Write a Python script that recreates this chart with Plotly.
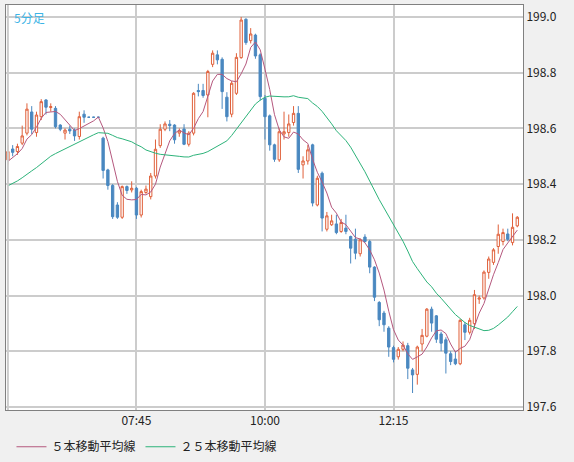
import plotly.graph_objects as go
import pandas as pd

opens = [198.487,198.526,198.517,198.547,198.583,198.659,198.585,198.642,198.702,198.675,
         198.672,198.612,198.583,198.597,198.594,198.571,198.651,198.640,198.640,198.640,
         198.565,198.451,198.395,198.325,198.281,198.391,198.379,198.385,198.289,198.370,
         198.355,198.429,198.538,198.597,198.615,198.612,198.583,198.598,198.543,198.583,
         198.736,198.736,198.720,198.830,198.864,198.848,198.712,198.651,198.726,198.854,
         198.992,198.915,198.935,198.864,198.708,198.645,198.541,198.487,198.580,198.585,
         198.621,198.654,198.469,198.483,198.541,198.325,198.439,198.238,198.254,198.257,
         198.230,198.242,198.212,198.202,198.150,198.210,198.194,198.102,197.975,197.937,
         197.883,197.813,197.780,197.807,197.820,197.733,197.717,197.826,197.854,197.951,
         197.927,197.862,197.841,197.791,197.772,197.755,197.895,197.868,197.899,197.987,
         197.991,198.083,198.119,198.176,198.194,198.221,198.190,198.250]
closes = [198.517,198.514,198.535,198.573,198.669,198.597,198.648,198.696,198.676,198.678,
          198.606,198.597,198.594,198.591,198.573,198.642,198.640,198.640,198.640,198.640,
          198.449,198.395,198.283,198.281,198.391,198.377,198.385,198.289,198.373,198.382,
          198.429,198.525,198.597,198.616,198.610,198.559,198.591,198.543,198.583,198.726,
          198.732,198.718,198.804,198.870,198.846,198.732,198.642,198.762,198.855,198.989,
          198.908,198.939,198.860,198.714,198.642,198.541,198.489,198.588,198.588,198.616,
          198.654,198.453,198.483,198.523,198.332,198.421,198.278,198.286,198.268,198.226,
          198.262,198.230,198.170,198.152,198.200,198.194,198.102,197.994,197.913,197.895,
          197.815,197.771,197.807,197.822,197.739,197.715,197.815,197.857,197.951,197.901,
          197.843,197.829,197.793,197.763,197.755,197.911,197.868,197.911,198.003,197.991,
          198.084,198.131,198.164,198.220,198.226,198.202,198.245,198.281]
highs = [198.540,198.540,198.545,198.610,198.690,198.680,198.660,198.705,198.705,198.690,
         198.680,198.615,198.600,198.610,198.600,198.660,198.665,198.642,198.642,198.642,
         198.570,198.455,198.400,198.335,198.395,198.395,198.410,198.390,198.380,198.395,
         198.440,198.560,198.615,198.625,198.630,198.615,198.600,198.615,198.590,198.730,
         198.760,198.760,198.810,198.880,198.880,198.855,198.730,198.770,198.870,199.000,
         198.995,198.960,198.940,198.870,198.720,198.650,198.545,198.600,198.660,198.650,
         198.680,198.680,198.500,198.540,198.545,198.430,198.445,198.300,198.290,198.290,
         198.275,198.290,198.215,198.240,198.205,198.220,198.200,198.105,197.980,197.945,
         197.890,197.820,197.815,197.835,197.830,197.740,197.820,197.880,197.955,197.960,
         197.930,197.870,197.850,197.800,197.800,197.915,197.905,197.920,198.020,198.000,
         198.090,198.140,198.170,198.255,198.240,198.240,198.295,198.285]
lows = [198.470,198.500,198.505,198.540,198.575,198.580,198.570,198.630,198.650,198.660,
        198.600,198.590,198.560,198.580,198.555,198.560,198.620,198.640,198.640,198.640,
        198.420,198.380,198.275,198.275,198.275,198.365,198.370,198.275,198.280,198.365,
        198.345,198.420,198.530,198.590,198.590,198.545,198.570,198.540,198.535,198.575,
        198.715,198.710,198.640,198.820,198.830,198.670,198.625,198.640,198.720,198.850,
        198.900,198.905,198.850,198.700,198.560,198.520,198.480,198.480,198.560,198.570,
        198.610,198.440,198.420,198.470,198.320,198.320,198.230,198.230,198.250,198.220,
        198.225,198.220,198.115,198.130,198.140,198.190,198.080,197.980,197.890,197.870,
        197.780,197.760,197.770,197.800,197.700,197.650,197.680,197.800,197.850,197.870,
        197.830,197.800,197.720,197.750,197.750,197.750,197.840,197.860,197.880,197.970,
        197.985,198.060,198.110,198.150,198.180,198.195,198.180,198.245]
# closes before the visible window (used only to seed the moving averages)
prior_closes = [198.30,198.31,198.29,198.33,198.32,198.35,198.34,198.36,198.33,198.37,
                198.38,198.36,198.39,198.40,198.42,198.41,198.44,198.43,198.45,198.46,
                198.44,198.47,198.48,198.50]
ma5_label = "５本移動平均線"
ma25_label = "２５本移動平均線"
tick_labels = ["07:45", "10:00", "12:15"]
title_text = "5分足"

times = pd.date_range("2024-01-10 05:30", periods=len(closes), freq="5min")
allc = pd.Series(prior_closes + closes)
n0 = len(prior_closes)
ma5 = allc.rolling(5).mean().iloc[n0:].values
ma25 = allc.rolling(25, min_periods=1).mean().iloc[n0:].values

fig = go.Figure()
fig.add_trace(go.Candlestick(
    x=times, open=opens, high=highs, low=lows, close=closes,
    increasing=dict(line=dict(color="#e0603a", width=1), fillcolor="white"),
    decreasing=dict(line=dict(color="#4a88c0", width=1), fillcolor="#4a88c0"),
    whiskerwidth=0, showlegend=False, hoverinfo="skip"))
fig.add_trace(go.Scatter(x=times, y=ma5, mode="lines", name=ma5_label,
                         line=dict(color="#b5587e", width=1)))
fig.add_trace(go.Scatter(x=times, y=ma25, mode="lines", name=ma25_label,
                         line=dict(color="#2db37a", width=1)))

tickvals = [pd.Timestamp("2024-01-10 " + t) for t in tick_labels]
fig.add_vline(x=pd.Timestamp("2024-01-10 05:30"), line=dict(color="#cccccc", width=2))
fig.add_annotation(text=title_text, xref="paper", yref="paper", x=0.012, y=0.995,
                   xanchor="left", yanchor="top", showarrow=False,
                   font=dict(color="#3cb4e6", size=12))
fig.update_layout(
    width=574, height=462, margin=dict(l=6, r=51, t=5, b=52, autoexpand=False),
    paper_bgcolor="#f0f0f0", plot_bgcolor="white",
    font=dict(family="Noto Sans CJK JP", size=12, color="#222"),
    xaxis=dict(rangeslider=dict(visible=False), tickvals=tickvals, ticktext=tick_labels,
               range=[pd.Timestamp("2024-01-10 05:28"), pd.Timestamp("2024-01-10 14:31")],
               showgrid=True, gridcolor="#cccccc", gridwidth=2, ticks="",
               showline=True, linecolor="#808080", mirror=True, linewidth=1),
    yaxis=dict(side="right", range=[197.589, 199.043], dtick=0.2, tick0=197.6,
               tickformat=".1f", showgrid=True, gridcolor="#cccccc", gridwidth=2,
               showline=True, linecolor="#808080", mirror=True, linewidth=1, ticks=""),
    legend=dict(orientation="h", x=0.02, y=0.033, xref="container", yref="container",
                xanchor="left", yanchor="middle",
                bgcolor="rgba(0,0,0,0)", font=dict(size=12)),
    hovermode=False,
)
fig.write_html("out.html", config={"displayModeBar": False})
with open("out.html", encoding="utf-8") as f:
    html = f.read()
html = html.replace("<head>", "<head><style>body{margin:0;overflow:hidden;}</style>", 1)
with open("out.html", "w", encoding="utf-8") as f:
    f.write(html)
